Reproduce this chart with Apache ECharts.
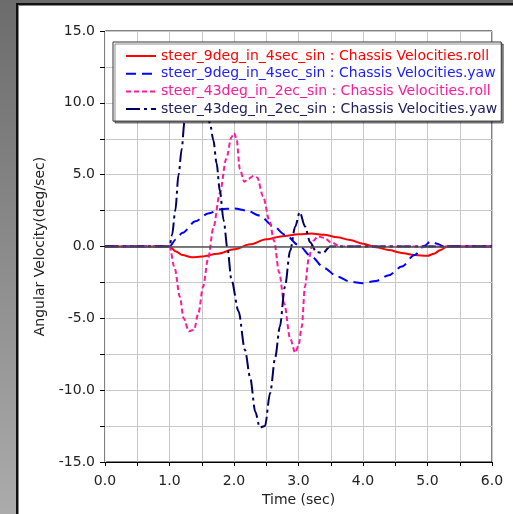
<!DOCTYPE html>
<html><head><meta charset="utf-8">
<script src="https://cdn.jsdelivr.net/npm/echarts@6/dist/echarts.min.js"></script>
<style>html,body{margin:0;padding:0;background:#fff;}#c{width:513px;height:514px;}</style>
</head><body><div id="c"></div>
<script>
const seriesNames = [
  'steer_9deg_in_4sec_sin : Chassis Velocities.roll',
  'steer_9deg_in_4sec_sin : Chassis Velocities.yaw',
  'steer_43deg_in_2ec_sin : Chassis Velocities.roll',
  'steer_43deg_in_2ec_sin : Chassis Velocities.yaw'
];
const xTitle = 'Time (sec)';
const yTitle = 'Angular Velocity(deg/sec)';

const roll9T = [0,1.0,1.1,1.2,1.35,1.5,1.75,2.0,2.25,2.5,2.75,3.0,3.2,3.4,3.6,3.8,4.0,4.2,4.4,4.6,4.8,5.0,5.1,5.2,5.3,6.0];
const roll9V = [0,0,-0.35,-0.6,-0.75,-0.7,-0.5,-0.2,0.15,0.5,0.72,0.85,0.9,0.82,0.65,0.45,0.2,-0.05,-0.25,-0.45,-0.6,-0.65,-0.5,-0.25,0,0];

const yaw9T = [0,1.0,1.1,1.2,1.4,1.6,1.8,2.0,2.2,2.4,2.6,2.8,3.0,3.2,3.4,3.6,3.8,4.0,4.2,4.4,4.6,4.8,4.95,5.05,5.15,5.25,6.0];
const yaw9V = [0,0,0.5,0.95,1.75,2.3,2.6,2.65,2.5,2.15,1.45,0.8,0.1,-0.7,-1.5,-2.1,-2.45,-2.55,-2.4,-2.0,-1.4,-0.6,0.05,0.35,0.2,0,0];

const roll43T = [0,1.0,1.08,1.16,1.22,1.3,1.38,1.45,1.52,1.6,1.68,1.78,1.88,1.96,2.0,2.04,2.09,2.16,2.22,2.3,2.36,2.45,2.55,2.62,2.7,2.78,2.87,2.95,3.0,3.05,3.1,3.16,3.23,3.3,3.4,3.5,3.65,6.0];
const roll43V = [0,0,-1.5,-3.5,-5.0,-5.9,-5.8,-4.6,-2.8,-0.8,1.3,3.7,6.1,7.6,7.9,7.5,5.4,4.5,4.7,4.9,4.8,3.5,1.8,0.4,-1.8,-4.0,-6.4,-7.4,-6.9,-5.6,-2.8,-0.8,0.4,0.7,0.6,0.3,0,0];

const yaw43T = [0,1.0,1.04,1.09,1.14,1.19,1.23,1.3,1.42,1.55,1.63,1.68,1.73,1.78,1.84,1.9,1.96,2.07,2.17,2.25,2.33,2.4,2.48,2.56,2.64,2.71,2.79,2.87,2.95,3.02,3.1,3.18,3.28,3.38,3.49,6.0];
const yaw43V = [0,0,0.8,2.5,5.0,6.8,8.6,11.0,12.8,11.0,8.5,7.4,5.8,3.9,1.8,-0.2,-2.3,-4.5,-7.2,-9.1,-11.5,-12.6,-12.5,-10.2,-7.7,-5.6,-2.8,-0.3,1.4,2.4,1.4,0.3,-0.4,-0.45,0,0];

const lineColors = ['#ff0000','#0000ff','#ff1a9c','#000066'];
const textColors = ['#ff0000','#2020ff','#ff1a9c','#202060'];
const dashTypes = ['solid',[10,6],[5,3],[14,4,3,4]];

function pairs(t, v){ return t.map((x,i)=>[x, v[i]]); }
const allData = [pairs(roll9T, roll9V), pairs(yaw9T, yaw9V), pairs(roll43T, roll43V), pairs(yaw43T, yaw43V)];

const FONT = 'DejaVu Sans';
const chart = echarts.init(document.getElementById('c'), null, {renderer:'canvas'});
const series = allData.map((d,i)=>({
  name: seriesNames[i], type:'line', data:d, showSymbol:false, symbol:'none',
  smooth:0.3, smoothMonotone:'x',
  lineStyle:{color:lineColors[i], width:2, type:dashTypes[i]},
  itemStyle:{color:lineColors[i]},
  z: 2,
  markLine: i===0 ? {silent:true, symbol:'none', label:{show:false},
    lineStyle:{color:'#555', width:1.5, type:'solid'}, data:[{yAxis:0}]} : undefined
}));

chart.setOption({
  animation:false,
  backgroundColor:'#ffffff',
  graphic:[
    {type:'rect', left:0, top:0, shape:{width:16, height:514}, style:{fill:new echarts.graphic.LinearGradient(0,0,0,1,[{offset:0,color:'#6c6c6c'},{offset:1,color:'#ababab'}])}, z:-10},
    {type:'rect', left:0, top:0, shape:{width:513, height:3}, style:{fill:'#6c6c6c'}, z:-10},
    {type:'rect', left:16, top:3, shape:{width:2, height:511}, style:{fill:'#111'}, z:-9},
    {type:'rect', left:16, top:3, shape:{width:497, height:2}, style:{fill:'#111'}, z:-9},
    {type:'rect', left:18, top:5, shape:{width:1, height:509}, style:{fill:'#888'}, z:-9},
    {type:'rect', left:18, top:5, shape:{width:495, height:1}, style:{fill:'#888'}, z:-9}
  ],
  grid:{left:105, top:31, right:21, bottom:52, show:true, borderColor:'#000', borderWidth:1, backgroundColor:'#fff', outerBoundsMode:'none', containLabel:false},
  legend:{
    orient:'vertical', left:113, top:42, z:20,
    backgroundColor:'#fff', borderColor:'#333', borderWidth:1,
    shadowColor:'rgba(0,0,0,0.45)', shadowBlur:0, shadowOffsetX:2, shadowOffsetY:2,
    padding:[7,4,5,12], itemWidth:30, itemHeight:12, itemGap:3.7,
    itemStyle:{opacity:0, borderWidth:0},
    textStyle:{fontFamily:FONT, fontSize:14},
    data: seriesNames.map((n,i)=>({name:n, textStyle:{color:textColors[i], fontFamily:FONT, fontSize:14}}))
  },
  xAxis:{
    type:'value', min:0, max:6, interval:0.5,
    name:xTitle, nameLocation:'middle', nameGap:31,
    nameTextStyle:{fontFamily:FONT, fontSize:14, color:'#222'},
    axisLine:{show:true, onZero:false, lineStyle:{color:'#000', width:1}},
    axisTick:{show:true, length:4, lineStyle:{color:'#000'}},
    axisLabel:{margin:12, fontFamily:FONT, fontSize:14, color:'#222',
      formatter:v=> (Math.abs(v - Math.round(v))<1e-9) ? v.toFixed(1) : ''},
    splitLine:{show:true, lineStyle:{color:'#c8c8c8', width:1}}
  },
  yAxis:{
    type:'value', min:-15, max:15, interval:2.5,
    name:yTitle, nameLocation:'middle', nameGap:58, nameRotate:90,
    nameTextStyle:{fontFamily:FONT, fontSize:14, color:'#222'},
    axisLine:{show:true, onZero:false, lineStyle:{color:'#ffff99', width:1}},
    axisTick:{show:true, length:5, lineStyle:{color:'#000'}},
    axisLabel:{margin:10, fontFamily:FONT, fontSize:14, color:'#222',
      formatter:v=> (Math.abs(v/5 - Math.round(v/5))<1e-9) ? v.toFixed(1) : ''},
    splitLine:{show:true, lineStyle:{color:'#c8c8c8', width:1}}
  },
  series: series
});
</script></body></html>
